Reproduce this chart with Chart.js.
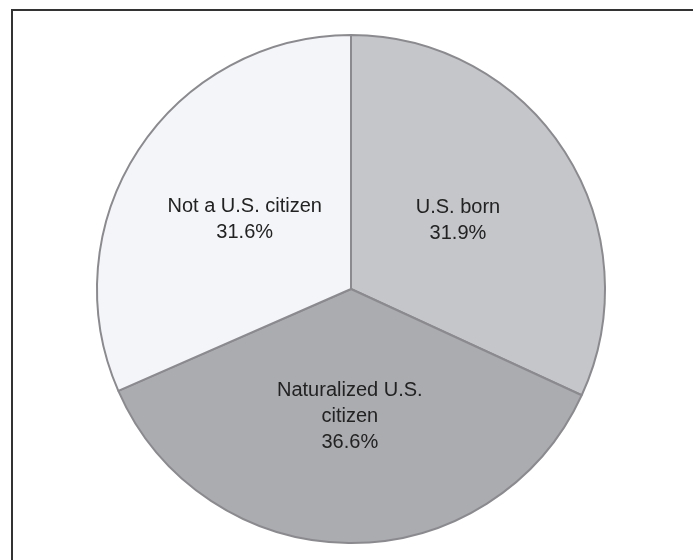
<!DOCTYPE html>
<html lang="en">

<head>
    <meta charset="UTF-8" />
    <title>Citizenship status</title>
    <script src="https://cdn.jsdelivr.net/npm/chart.js@4.4.0/dist/chart.umd.min.js"></script>
    <style type="text/css">
        html,
        body {
            margin: 0;
            background: #fff;
            overflow: hidden;
        }
    </style>
</head>

<body>
    <canvas id="myChart" width="693" height="560"></canvas>

    <script>
        // slices go clockwise from 12 o'clock
        const labels = [['U.S. born'], ['Naturalized U.S.', 'citizen'], ['Not a U.S. citizen']];
        const shares = [31.9, 36.6, 31.6];
        const colors = ['#c5c6ca', '#abacb0', '#f4f5f8'];

        // dark rule along the top and left of the picture
        const frame = {
            id: 'frame',
            beforeDraw(chart) {
                const ctx = chart.ctx;
                ctx.save();
                ctx.strokeStyle = '#333';
                ctx.lineWidth = 2;
                ctx.beginPath();
                ctx.moveTo(12, chart.height);
                ctx.lineTo(12, 10);
                ctx.lineTo(chart.width, 10);
                ctx.stroke();
                ctx.restore();
            }
        };

        // writes the name and share inside each slice, half way out
        const sliceLabels = {
            id: 'sliceLabels',
            afterDatasetsDraw(chart) {
                const ctx = chart.ctx;
                const arcs = chart.getDatasetMeta(0).data;
                ctx.save();
                ctx.font = '20px "Liberation Sans"';
                ctx.fillStyle = '#222';
                ctx.textAlign = 'center';
                ctx.textBaseline = 'middle';
                arcs.forEach((arc, i) => {
                    const p = arc.getProps(['x', 'y', 'startAngle', 'endAngle', 'outerRadius'], true);
                    const mid = (p.startAngle + p.endAngle) / 2;
                    const r = p.outerRadius * 0.5;
                    const cx = p.x + Math.cos(mid) * r;
                    const cy = p.y + Math.sin(mid) * r;
                    const lines = labels[i].concat([shares[i].toFixed(1) + '%']);
                    const lh = 26;
                    const top = cy - (lines.length - 1) * lh / 2;
                    lines.forEach((t, j) => ctx.fillText(t, cx, top + j * lh));
                });
                ctx.restore();
            }
        };

        const ctx = document.getElementById('myChart').getContext('2d');
        const myChart = new Chart(ctx, {
            type: 'pie',
            data: {
                labels: labels.map(l => l.join(' ')),
                datasets: [{
                    data: shares,
                    backgroundColor: colors,
                    borderColor: '#8b8b8f',
                    borderWidth: 2
                }]
            },
            options: {
                responsive: false,
                animation: false,
                layout: {
                    padding: { top: 34, bottom: 16, left: 9, right: 0 }
                },
                plugins: {
                    legend: { display: false },
                    tooltip: { enabled: false }
                }
            },
            plugins: [frame, sliceLabels]
        });
    </script>
</body>

</html>
